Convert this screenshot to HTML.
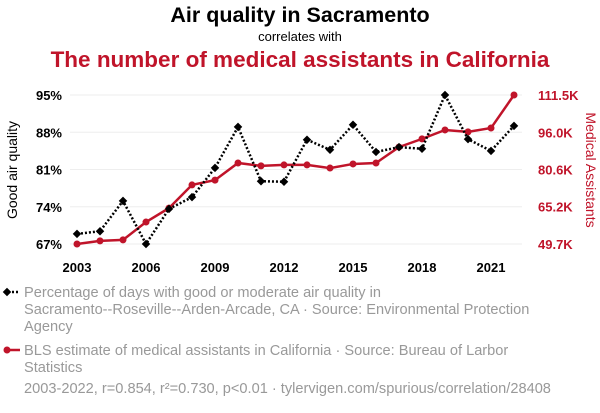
<!DOCTYPE html>
<html><head><meta charset="utf-8"><style>
body{margin:0;background:#fff;width:600px;height:408px;overflow:hidden;font-family:"Liberation Sans",sans-serif}
svg text{font-family:"Liberation Sans",sans-serif}
</style></head><body>
<svg id="c" width="600" height="408">
<text x="300" y="22" text-anchor="middle" font-size="21.5" font-weight="bold" fill="#000">Air quality in Sacramento</text>
<text x="300" y="41" text-anchor="middle" font-size="13" fill="#000">correlates with</text>
<text x="300" y="67" text-anchor="middle" font-size="22.5" font-weight="bold" fill="#c0142a">The number of medical assistants in California</text>
<text transform="translate(17,170) rotate(-90)" text-anchor="middle" font-size="14" fill="#000">Good air quality</text>
<text transform="translate(586,170) rotate(90)" text-anchor="middle" font-size="14" fill="#c0142a">Medical Assistants</text>
<g id="grid"></g><g id="marks"></g><g id="axes"></g>
<g>
<line x1="4" y1="292" x2="20" y2="292" stroke="#000" stroke-width="2.5" stroke-dasharray="2,2"/>
<rect x="4" y="289" width="6" height="6" transform="rotate(45 7 292)" fill="#000"/>
<text font-size="14.6" fill="#999"><tspan x="24" y="297">Percentage of days with good or moderate air quality in</tspan><tspan x="24" y="314">Sacramento--Roseville--Arden-Arcade, CA · Source: Environmental Protection</tspan><tspan x="24" y="331">Agency</tspan></text>
<line x1="4" y1="350" x2="20" y2="350" stroke="#c0142a" stroke-width="2.5"/>
<circle cx="7" cy="350" r="3.5" fill="#c0142a"/>
<text font-size="14.6" fill="#999"><tspan x="24" y="355">BLS estimate of medical assistants in California · Source: Bureau of Larbor</tspan><tspan x="24" y="372">Statistics</tspan></text>
<text x="24" y="393" font-size="14.6" fill="#999">2003-2022, r=0.854, r²=0.730, p&lt;0.01 · tylervigen.com/spurious/correlation/28408</text>
</g>
</svg>
<script>
const years=[2003,2004,2005,2006,2007,2008,2009,2010,2011,2012,2013,2014,2015,2016,2017,2018,2019,2020,2021,2022];
const airQuality=[68.9,69.4,75.1,67,73.6,75.8,81.3,89.0,78.8,78.7,86.6,84.7,89.4,84.3,85.2,84.9,95,86.7,84.5,89.2];
const assistants=[49.7,51.0,51.4,58.8,64.6,74.2,76.2,83.3,82.1,82.5,82.5,81.2,82.9,83.3,89.9,93.3,97.0,96.2,97.8,111.5];
const leftTicks=[67,74,81,88,95];
const rightTicks=[49.7,65.2,80.6,96.0,111.5];
const xTicks=[2003,2006,2009,2012,2015,2018,2021];
const NS="http://www.w3.org/2000/svg";
const X=y=>77+(y-2003)*23;
const YL=v=>244-(v-67)*(149/28);
const YR=v=>244-(v-49.7)*(149/61.8);
function mk(t,a,p){const e=document.createElementNS(NS,t);for(const k in a)e.setAttribute(k,a[k]);p.appendChild(e);return e;}
const grid=document.getElementById('grid'),marks=document.getElementById('marks'),axes=document.getElementById('axes');
leftTicks.forEach((v,i)=>{
 const g=mk('line',{x1:70,x2:522,y1:YL(v),y2:YL(v),stroke:'#eee','stroke-width':1},grid);
 
 
 const t=mk('text',{x:62,y:YL(v)+5,'text-anchor':'end','font-size':13,'font-weight':'bold',fill:'#000'},axes);t.textContent=v+'%';
 
 
});
rightTicks.forEach(v=>{
 const t=mk('text',{x:538,y:YR(v)+5,'font-size':13,'font-weight':'bold',fill:'#c0142a'},axes);t.textContent=v.toFixed(1)+'K';
 
 
});
xTicks.forEach(y=>{
 const t=mk('text',{x:X(y),y:272,'text-anchor':'middle','font-size':13,'font-weight':'bold',fill:'#000'},axes);t.textContent=y;
 
 
});
const rl=mk('polyline',{points:years.map((y,i)=>X(y)+','+YR(assistants[i])).join(' '),fill:'none',stroke:'#c0142a','stroke-width':2.5},marks);


years.forEach((y,i)=>{const c=mk('circle',{cx:X(y),cy:YR(assistants[i]),r:3.5,fill:'#c0142a'},marks);
 
 });
const bl=mk('polyline',{points:years.map((y,i)=>X(y)+','+YL(airQuality[i])).join(' '),fill:'none',stroke:'#000','stroke-width':2.5,'stroke-dasharray':'2,2'},marks);


years.forEach((y,i)=>{const cx=X(y),cy=YL(airQuality[i]);const r=mk('rect',{x:cx-3,y:cy-3,width:6,height:6,fill:'#000',transform:`rotate(45 ${cx} ${cy})`},marks);
 
 });
</script>
</body></html>
